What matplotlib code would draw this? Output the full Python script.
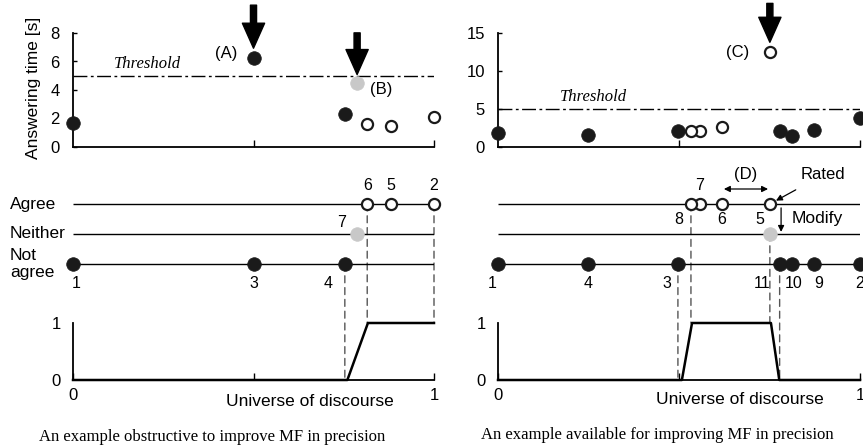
import matplotlib.pyplot as plt
from matplotlib.patches import ConnectionPatch

plt.rcParams['font.family'] = ['Liberation Sans', 'DejaVu Sans']

# ratings: 0 = not agree, 1 = neither, 2 = agree
rating_names = ['Not\nagree', 'Neither', 'Agree']
threshold = 5

# left example (questions 1-7)
left_q = [1, 2, 3, 4, 5, 6, 7]
left_x = [0.0, 1.0, 0.5, 0.753, 0.88, 0.815, 0.787]
left_rating = [0, 2, 0, 0, 2, 2, 1]
left_time = [1.7, 2.1, 6.25, 2.3, 1.5, 1.6, 4.5]
left_mf_x = [0, 0.76, 0.817, 1]
left_mf_y = [0, 0, 1, 1]
left_links = [(4, 0), (6, 1), (2, 1)]  # (question, MF grade)

# right example (questions 1-11)
right_q = [1, 2, 3, 4, 5, 6, 7, 8, 9, 10, 11]
right_x = [0.0, 1.0, 0.497, 0.249, 0.751, 0.619, 0.558, 0.533, 0.873, 0.812, 0.778]
right_rating = [0, 0, 0, 0, 2, 2, 2, 2, 0, 0, 0]
right_time = [1.85, 3.8, 2.1, 1.6, 12.5, 2.6, 2.1, 2.1, 2.25, 1.45, 2.1]
right_mf_x = [0, 0.508, 0.536, 0.754, 0.777, 1]
right_mf_y = [0, 0, 1, 1, 0, 0]
right_links = [(3, 0), (8, 1), (5, 1), (11, 0)]
modified_q = 5
modified_rating = 1

STYLES = {
    0: dict(marker='o', ms=9.8, mfc='#1a1a1a', mec='#1a1a1a', mew=0.5),
    1: dict(marker='o', ms=9.8, mfc='#c8c8c8', mec='#c8c8c8', mew=0.5),
    2: dict(marker='o', ms=8.0, mfc='white', mec='#1a1a1a', mew=1.6),
}

# label offsets (points) for question numbers
left_lab_off = {1: (2, -14), 2: (0, 13.5), 3: (0, -14), 4: (-12, -14),
                5: (0, 13.5), 6: (0, 13.5), 7: (-11, 8)}
right_lab_off = {1: (-4, -14), 2: (0, -14), 3: (-8, -14), 4: (0, -14),
                 5: (-7, -11.5), 6: (0, -11.5), 7: (0, 13.5), 8: (-9, -11.5),
                 9: (3, -14), 10: (1, -14), 11: (-13, -14)}

W, H = 863, 448
fig = plt.figure(figsize=(W / 100, H / 100), dpi=100)


def add_ax(x0, x1, ytop, ybot):
    return fig.add_axes([x0 / W, 1 - ybot / H, (x1 - x0) / W, (ybot - ytop) / H])


def dot(ax, x, y, r):
    ax.plot([x], [y], ls='none', clip_on=False, zorder=3, **STYLES[r])


def panel(x0, x1, q, xs, ratings, times, ymax, yticks, mf_x, mf_y, links,
          lab_off, mod=None):
    ax_b = add_ax(x0, x1, 323, 380)
    ax_t = add_ax(x0, x1, 33, 147)
    ax_m = add_ax(x0, x1, 189, 279)

    # answering time
    for s in ['top', 'right']:
        ax_t.spines[s].set_visible(False)
    for s in ['left', 'bottom']:
        ax_t.spines[s].set_linewidth(1.3)
    ax_t.set_xlim(0, 1)
    ax_t.set_ylim(0, ymax)
    ax_t.set_xticks([0.5, 1])
    ax_t.set_xticklabels([])
    ax_t.set_yticks(yticks)
    ax_t.tick_params(axis='x', direction='in', length=5, width=1)
    ax_t.tick_params(axis='y', direction='in', length=3, width=1, pad=9.5,
                     labelsize=12)
    ax_t.axhline(threshold, color='black', lw=1, dashes=(10, 2.5, 2, 2.5))
    for x, r, t in zip(xs, ratings, times):
        dot(ax_t, x, t, r)

    # ratings
    ax_m.axis('off')
    ax_m.set_xlim(0, 1)
    ax_m.set_ylim(-0.5, 2.5)
    ax_m.hlines([0, 1, 2], 0, 1, color='black', lw=1, zorder=2)
    pos = {}
    for qq, x, r in zip(q, xs, ratings):
        dot(ax_m, x, r, r)
        pos[qq] = (x, r)
    if mod is not None:
        mq, mr = mod
        dot(ax_m, pos[mq][0], mr, mr)
        pos[mq] = (pos[mq][0], mr)
    for qq, x, r in zip(q, xs, ratings):
        if mod is None or qq != mod[0]:
            r = pos[qq][1]
        ax_m.annotate(str(qq), (x, r), xytext=lab_off[qq], textcoords='offset points',
                      ha='center', va='center', fontsize=11.5, annotation_clip=False)

    # membership function
    ax_b.set_facecolor('none')
    for s in ['top', 'right']:
        ax_b.spines[s].set_visible(False)
    for s in ['left', 'bottom']:
        ax_b.spines[s].set_linewidth(1.3)
    ax_b.set_xlim(0, 1)
    ax_b.set_ylim(0, 1)
    ax_b.plot(mf_x, mf_y, color='black', lw=1.8, clip_on=False, zorder=3)
    ax_b.set_xticks([0, 0.5, 1])
    ax_b.set_xticklabels(['0', '', '1'])
    ax_b.set_yticks([0, 1])
    ax_b.tick_params(axis='x', direction='in', length=5, width=1, pad=6, labelsize=12)
    ax_b.tick_params(axis='y', length=0, pad=9, labelsize=12)

    for qq, g in links:
        x, r = pos[qq]
        con = ConnectionPatch(xyA=(x, r), coordsA='data', axesA=ax_m,
                              xyB=(x, g), coordsB='data', axesB=ax_b,
                              color='#555555', lw=1, linestyle=(0, (5, 3.5)), zorder=-1)
        fig.add_artist(con)
    return ax_t, ax_m, ax_b


lt, lm, lb = panel(73, 434, left_q, left_x, left_rating, left_time, 8, [0, 2, 4, 6, 8],
                   left_mf_x, left_mf_y, left_links, left_lab_off)
rt, rm, rb = panel(498, 860, right_q, right_x, right_rating, right_time, 15, [0, 5, 10, 15],
                   right_mf_x, right_mf_y, right_links, right_lab_off,
                   mod=(modified_q, modified_rating))

serif = ['Liberation Serif', 'DejaVu Serif']
big_arrow = dict(arrowstyle='simple,head_length=0.9,head_width=0.8,tail_width=0.22',
                 mutation_scale=20, fc='black', ec='black', shrinkA=0)

# left top annotations
lt.set_ylabel('Answering time [s]', fontsize=12.5)
lt.yaxis.set_label_coords(-0.09, 0.52)
lt.annotate('Threshold', (0.205, threshold), xytext=(0, 3), textcoords='offset points',
            ha='center', va='bottom', fontsize=12, style='italic', family=serif)
a_x, a_t = left_x[2], left_time[2]
b_x, b_t = left_x[6], left_time[6]
lt.annotate('', (a_x, a_t), xytext=(0, 38), textcoords='offset points',
            arrowprops=dict(big_arrow, shrinkB=7), annotation_clip=False)
lt.annotate('', (b_x, b_t), xytext=(0, 36), textcoords='offset points',
            arrowprops=dict(big_arrow, shrinkB=6), annotation_clip=False)
lt.annotate('(A)', (a_x, a_t), xytext=(-19.5, 3.5), textcoords='offset points',
            ha='center', va='center', fontsize=12)
lt.annotate('(B)', (b_x, b_t), xytext=(17, -5), textcoords='offset points',
            ha='center', va='center', fontsize=12)

# right top annotations
rt.annotate('Threshold', (0.265, threshold), xytext=(0, 3), textcoords='offset points',
            ha='center', va='bottom', fontsize=12, style='italic', family=serif)
c_x, c_t = right_x[4], right_time[4]
rt.annotate('', (c_x, c_t), xytext=(0, 35), textcoords='offset points',
            arrowprops=dict(big_arrow, shrinkB=7), annotation_clip=False)
rt.annotate('(C)', (c_x, c_t), xytext=(-23, 0), textcoords='offset points',
            ha='center', va='center', fontsize=12)

# rating names
for r, name in enumerate(rating_names):
    lm.text(-0.175, r, name, transform=lm.get_yaxis_transform(), ha='left', va='center',
            fontsize=12.5, linespacing=1.1)

# (D), Rated, Modify
x6, x5 = right_x[5], right_x[4]
small = dict(color='black', lw=0.9, mutation_scale=9)
rm.annotate('', (x5 - 0.005, 2.5), xytext=(x6 + 0.005, 2.5),
            arrowprops=dict(arrowstyle='<|-|>', shrinkA=0, shrinkB=0, **small))
rm.text((x5 + x6) / 2, 2.97, '(D)', ha='center', va='center', fontsize=12)
rm.annotate('Rated', (x5, 2), xytext=(0.898, 2.97), ha='center', va='center', fontsize=12,
            arrowprops=dict(arrowstyle='-|>', shrinkA=7, shrinkB=5, **small),
            annotation_clip=False)
rm.annotate('', (0.782, 1.07), xytext=(0.782, 1.87),
            arrowprops=dict(arrowstyle='-|>', shrinkA=0, shrinkB=0, **small))
rm.text(0.812, 1.53, 'Modify', ha='left', va='center', fontsize=12.5)

# x labels and captions
lb.text(0.657, -0.37, 'Universe of discourse', transform=lb.transAxes,
        ha='center', va='center', fontsize=12.5)
rb.text(0.668, -0.35, 'Universe of discourse', transform=rb.transAxes,
        ha='center', va='center', fontsize=12.5)
fig.text(212 / W, 1 - 437 / H, 'An example obstructive to improve MF in precision',
         ha='center', va='center', fontsize=12, family=serif)
fig.text(657 / W, 1 - 435 / H, 'An example available for improving MF in precision',
         ha='center', va='center', fontsize=12, family=serif)

fig.savefig('out.png', dpi=100)
